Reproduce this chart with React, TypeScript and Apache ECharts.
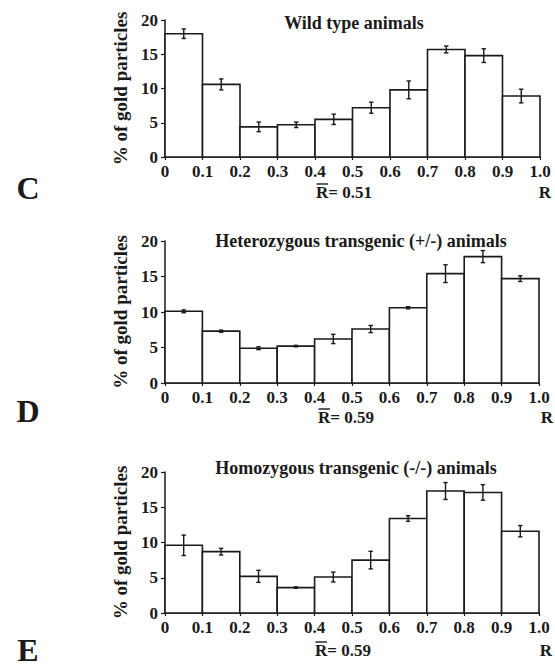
import React, { useEffect, useRef } from "react";
import * as echarts from "echarts";

const binEdges = [0, 0.1, 0.2, 0.3, 0.4, 0.5, 0.6, 0.7, 0.8, 0.9, 1.0];
const wildType = [18.0, 10.6, 4.4, 4.7, 5.5, 7.2, 9.8, 15.7, 14.8, 8.9];
const wildTypeErr = [0.7, 0.8, 0.7, 0.4, 0.75, 0.8, 1.3, 0.5, 1.0, 1.0];
const hetero = [10.1, 7.3, 4.9, 5.2, 6.2, 7.6, 10.6, 15.4, 17.8, 14.7];
const heteroErr = [0.2, 0.15, 0.2, 0.1, 0.65, 0.5, 0.15, 1.25, 0.85, 0.4];
const homo = [9.6, 8.7, 5.2, 3.6, 5.1, 7.5, 13.4, 17.3, 17.1, 11.6];
const homoErr = [1.45, 0.47, 0.85, 0.1, 0.7, 1.25, 0.4, 1.2, 1.1, 0.8];
const titles = [
  "Wild type animals",
  "Heterozygous transgenic (+/-) animals",
  "Homozygous transgenic (-/-) animals",
];
const meanR = ["0.51", "0.59", "0.59"];
const letters = ["C", "D", "E"];
const yAxisName = "% of gold particles";

const FONT = "Liberation Serif";
const INK = "#1a1a1a";

export default function App() {
  const ref = useRef<HTMLDivElement>(null);
  useEffect(() => {
    if (!ref.current) return;
    const chart = echarts.init(ref.current, undefined, { renderer: "svg" });
    const panels = [
      { vals: wildType, errs: wildTypeErr },
      { vals: hetero, errs: heteroErr },
      { vals: homo, errs: homoErr },
    ];
    const grids = [
      { left: 165, top: 20, width: 375, height: 137 },
      { left: 165, top: 241, width: 374, height: 142 },
      { left: 165, top: 472, width: 374, height: 141 },
    ];
    const titleY = [23, 241, 468];
    const titleX = [354, 361, 356];
    const rbarX = [316, 318, 315];
    const rbarY = [192, 417, 650];
    const rX = [545, 547, 546];
    const letterY = [188, 411, 650];

    const xAxes: any[] = [];
    const yAxes: any[] = [];
    const series: any[] = [];
    const graphics: any[] = [];

    const labelStyle = {
      color: INK,
      fontFamily: FONT,
      fontWeight: "bold" as const,
      fontSize: 17,
    };

    panels.forEach((p, i) => {
      xAxes.push({
        gridIndex: i,
        type: "value",
        min: 0,
        max: 1,
        interval: 0.1,
        axisLine: { lineStyle: { color: INK, width: 1.5 } },
        axisTick: { show: true, length: 3, lineStyle: { color: INK, width: 1.2 } },
        splitLine: { show: false },
        axisLabel: {
          ...labelStyle,
          margin: 6,
          formatter: (v: number) => (v === 0 ? "0" : v.toFixed(1)),
        },
      });
      yAxes.push({
        gridIndex: i,
        type: "value",
        min: 0,
        max: 20,
        interval: 5,
        name: yAxisName,
        nameLocation: "middle",
        nameRotate: 90,
        nameGap: 31,
        nameTextStyle: { color: INK, fontFamily: FONT, fontWeight: "bold", fontSize: 19 },
        axisLine: { show: true, lineStyle: { color: INK, width: 1.5 } },
        axisTick: { show: true, length: 4, lineStyle: { color: INK, width: 1.2 } },
        splitLine: { show: false },
        axisLabel: { ...labelStyle, margin: 7 },
      });
      const data = p.vals.map((v, k) => [binEdges[k], binEdges[k + 1], v, p.errs[k]]);
      series.push({
        type: "custom",
        xAxisIndex: i,
        yAxisIndex: i,
        data,
        encode: { x: [0, 1], y: 2 },
        renderItem: (params: any, api: any) => {
          const x0 = api.value(0);
          const x1 = api.value(1);
          const y = api.value(2);
          const e = api.value(3);
          const tl = api.coord([x0, y]);
          const br = api.coord([x1, 0]);
          const cx = api.coord([(x0 + x1) / 2, y])[0];
          const yHi = api.coord([x0, y + e])[1];
          const yLo = api.coord([x0, y - e])[1];
          const cap = 2.2;
          const ls = { stroke: INK, lineWidth: 1.4 };
          return {
            type: "group",
            children: [
              {
                type: "rect",
                shape: { x: tl[0], y: tl[1], width: br[0] - tl[0], height: br[1] - tl[1] },
                style: { fill: "#ffffff", stroke: INK, lineWidth: 1.6 },
              },
              { type: "line", shape: { x1: cx, y1: yHi, x2: cx, y2: yLo }, style: ls },
              { type: "line", shape: { x1: cx - cap, y1: yHi, x2: cx + cap, y2: yHi }, style: ls },
              { type: "line", shape: { x1: cx - cap, y1: yLo, x2: cx + cap, y2: yLo }, style: ls },
            ],
          };
        },
      });
      graphics.push({
        type: "text",
        x: titleX[i],
        y: titleY[i],
        style: {
          text: titles[i],
          fill: INK,
          font: `bold 18px ${FONT}`,
          textAlign: "center",
          textVerticalAlign: "middle",
        },
        z: 10,
      });
      graphics.push({
        type: "text",
        x: rbarX[i],
        y: rbarY[i],
        style: {
          text: "R= " + meanR[i],
          fill: INK,
          font: `bold 17px ${FONT}`,
          textAlign: "left",
          textVerticalAlign: "middle",
        },
      });
      graphics.push({
        type: "line",
        shape: { x1: rbarX[i] + 0.5, y1: rbarY[i] - 8, x2: rbarX[i] + 12, y2: rbarY[i] - 8 },
        style: { stroke: INK, lineWidth: 1.4 },
      });
      graphics.push({
        type: "text",
        x: rX[i],
        y: rbarY[i],
        style: {
          text: "R",
          fill: INK,
          font: `bold 17px ${FONT}`,
          textAlign: "center",
          textVerticalAlign: "middle",
        },
      });
      graphics.push({
        type: "text",
        x: 28,
        y: letterY[i],
        style: {
          text: letters[i],
          fill: INK,
          font: `bold 32px ${FONT}`,
          textAlign: "center",
          textVerticalAlign: "middle",
        },
      });
    });

    chart.setOption({
      animation: false,
      backgroundColor: "#ffffff",
      textStyle: { fontFamily: FONT, fontWeight: "bold" },
      grid: grids,
      xAxis: xAxes,
      yAxis: yAxes,
      series,
      graphic: graphics,
    });
    return () => chart.dispose();
  }, []);
  return (
    <div
      ref={ref}
      style={{ position: "fixed", left: 0, top: 0, width: 555, height: 667 }}
    />
  );
}
